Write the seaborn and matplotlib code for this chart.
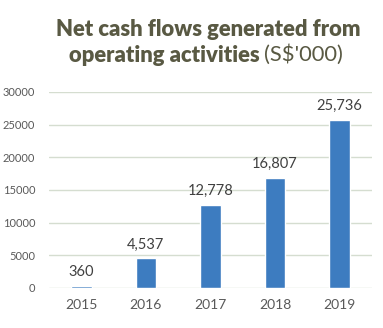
import matplotlib
matplotlib.use("Agg")
import matplotlib.pyplot as plt
import seaborn as sns
import pandas as pd

years = ["2015", "2016", "2017", "2018", "2019"]
values = [360, 4537, 12778, 16807, 25736]
value_labels = ["360", "4,537", "12,778", "16,807", "25,736"]
yticks = [0, 5000, 10000, 15000, 20000, 25000, 30000]

sns.set_theme(style="white")
plt.rcParams['font.family'] = ['Lato', 'DejaVu Sans']

df = pd.DataFrame({"year": years, "value": values})

fig = plt.figure(figsize=(3.83, 3.28), dpi=100)
ax = fig.add_axes([49/383, 40/328, (372-49)/383, (288-92)/328])
sns.barplot(data=df, x="year", y="value", color="#3D7CC0", width=0.32,
            saturation=1, ax=ax)

ax.set_ylim(0, 30000)
ax.set_yticks(yticks)
ax.set_yticklabels([str(t) for t in yticks], fontsize=8, color="#595959")
ax.tick_params(axis='x', labelsize=10, labelcolor="#595959", length=0, pad=8)
ax.tick_params(axis='y', length=0, pad=10)
ax.grid(axis='y', color="#D5DDD0", linewidth=1)
ax.set_axisbelow(True)
for s in ax.spines.values():
    s.set_visible(False)
ax.set_xlabel("")
ax.set_ylabel("")

for i, (v, lab) in enumerate(zip(values, value_labels)):
    ax.annotate(lab, (i, v), xytext=(0, 5), textcoords="offset points",
                ha="center", va="bottom", fontsize=10.5, color="#404040")

title_color = "#595943"
fig.text(208/383, 1 - 29/328, "Net cash flows generated from", ha="center", va="center",
         fontsize=15.8, fontweight="heavy", color=title_color)

renderer = fig.canvas.get_renderer()
t1 = fig.text(0, 0, "operating activities ", fontsize=15.8, fontweight="heavy", color=title_color)
t2 = fig.text(0, 0, "(S$'000)", fontsize=15.8, color=title_color)
w1 = t1.get_window_extent(renderer).width
w2 = t2.get_window_extent(renderer).width
total = w1 + w2
x0 = 206 - total / 2
y2 = 1 - 55/328
t1.set_position((x0/383, y2)); t1.set_va("center")
t2.set_position(((x0 + w1)/383, y2)); t2.set_va("center")

fig.savefig("out.png", dpi=100)
